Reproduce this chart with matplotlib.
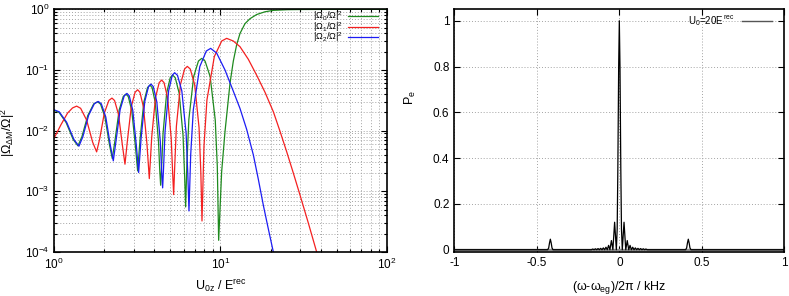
import numpy as np
import matplotlib
matplotlib.use('Agg')
import matplotlib.pyplot as plt
from matplotlib.ticker import LogLocator, NullFormatter

# ---------------- data: left panel (log10 of U0z/Erec, |Omega/Omega|^2) -------------
g_logu = [0.0, 0.0285, 0.0712, 0.1139, 0.1424, 0.1661, 0.2016, 0.2371, 0.2608, 0.2784,
          0.3049, 0.3314, 0.3490, 0.3655, 0.3902, 0.4148, 0.4313, 0.4453, 0.4664, 0.4875,
          0.5015, 0.5163, 0.5386, 0.5609, 0.5757, 0.5886, 0.6079, 0.6271, 0.6349, 0.6400,
          0.6458, 0.6544, 0.6761, 0.6977, 0.7121, 0.7278, 0.7513, 0.7747, 0.7841, 0.7904,
          0.7981, 0.8097, 0.8386, 0.8674, 0.8867, 0.9072, 0.9379, 0.9685, 0.9808, 0.9890,
          1.0070, 1.0271, 1.0572, 1.0772, 1.0973, 1.1174, 1.1474, 1.1775, 1.2176, 1.2677,
          1.3180, 1.4000, 1.5000, 1.7000, 2.0000]
g_val = [0.0215, 0.0200, 0.0136, 0.00714, 0.00562, 0.00794, 0.01776, 0.02758, 0.0299, 0.02738,
         0.01669, 0.00599, 0.00347, 0.00696, 0.02174, 0.03651, 0.0400, 0.03639, 0.02109, 0.00578,
         0.00217, 0.00735, 0.02929, 0.05122, 0.0564, 0.05113, 0.02883, 0.00653, 0.00213, 0.00126,
         0.00253, 0.00901, 0.04183, 0.07465, 0.0824, 0.07458, 0.04148, 0.00837, 0.00184, 0.000553,
         0.00298, 0.0153, 0.0778, 0.1403, 0.155, 0.1402, 0.0776, 0.01495, 0.00259, 0.000156,
         0.0021, 0.0096, 0.06, 0.14, 0.26, 0.40, 0.58, 0.70, 0.82, 0.91,
         0.96, 0.985, 0.993, 0.997, 0.998]

r_logu = [0.0, 0.0400, 0.0800, 0.1100, 0.1344, 0.1585, 0.1946, 0.2307, 0.2548, 0.2732,
          0.3009, 0.3286, 0.3470, 0.3627, 0.3862, 0.4096, 0.4253, 0.4405, 0.4634, 0.4863,
          0.5015, 0.5155, 0.5366, 0.5577, 0.5717, 0.5865, 0.6088, 0.6311, 0.6459, 0.6604,
          0.6821, 0.7037, 0.7124, 0.7182, 0.7248, 0.7346, 0.7593, 0.7840, 0.8004, 0.8181,
          0.8446, 0.8710, 0.8816, 0.8887, 0.9006, 0.9184, 0.9629, 1.0074, 1.0371, 1.0772,
          1.1174, 1.1675, 1.2176, 1.2677, 1.3180, 1.3580, 1.3982, 1.4383, 1.4784, 1.5286,
          1.5787, 1.6000]
r_val = [0.00762, 0.0125, 0.0195, 0.0237, 0.02537, 0.02337, 0.01492, 0.00647, 0.00447, 0.00733,
         0.01944, 0.03154, 0.0344, 0.03138, 0.0186, 0.00582, 0.0028, 0.00704, 0.0250, 0.04296,
         0.0472, 0.04285, 0.02441, 0.00597, 0.00162, 0.00798, 0.03491, 0.06184, 0.0682, 0.06177,
         0.03454, 0.00731, 0.00194, 0.000884, 0.00267, 0.01174, 0.05774, 0.10374, 0.1146, 0.1037,
         0.05747, 0.01124, 0.00212, 0.000325, 0.00554, 0.0320, 0.1662, 0.3003, 0.332, 0.300,
         0.242, 0.150, 0.082, 0.043, 0.0205, 0.0098, 0.0045, 0.0020, 0.00087, 0.00030,
         0.00010, 0.00007]

b_logu = [0.0, 0.0297, 0.0742, 0.1187, 0.1484, 0.1717, 0.2066, 0.2415, 0.2648, 0.2829,
          0.3100, 0.3370, 0.3551, 0.3715, 0.3962, 0.4209, 0.4373, 0.4513, 0.4724, 0.4935,
          0.5075, 0.5223, 0.5446, 0.5669, 0.5817, 0.5958, 0.6169, 0.6379, 0.6464, 0.6520,
          0.6578, 0.6664, 0.6881, 0.7098, 0.7242, 0.7414, 0.7673, 0.7932, 0.8035, 0.8104,
          0.8208, 0.8365, 0.8756, 0.9147, 0.9408, 0.9769, 1.0271, 1.0772, 1.1174, 1.1575,
          1.1976, 1.2277, 1.2578, 1.2879, 1.3180, 1.3380]
b_val = [0.0220, 0.02043, 0.01378, 0.00712, 0.00555, 0.00791, 0.01793, 0.02794, 0.0303, 0.02771,
         0.01674, 0.00577, 0.00318, 0.0068, 0.02214, 0.03748, 0.0411, 0.03737, 0.02157, 0.00577,
         0.00204, 0.00744, 0.03032, 0.0532, 0.0586, 0.05311, 0.02987, 0.00663, 0.00204, 0.00114,
         0.00254, 0.00964, 0.04562, 0.0816, 0.0901, 0.08155, 0.04529, 0.00904, 0.00188, 0.000475,
         0.00403, 0.0221, 0.1137, 0.2054, 0.227, 0.19, 0.10, 0.0447, 0.0232, 0.0105,
         0.0040, 0.00158, 0.00059, 0.00024, 0.00010, 0.00006]

left_labels = [r'$|\Omega_0/\Omega|^2$', r'$|\Omega_1/\Omega|^2$', r'$|\Omega_2/\Omega|^2$']

# ---------------- data: right panel (detuning / kHz, P_e) ----------------
det = [-1.0, -0.434, -0.428, -0.423, -0.418, -0.413, -0.408, -0.402,
       -0.169, -0.161, -0.153, -0.145, -0.137, -0.129, -0.121, -0.113, -0.105, -0.097,
       -0.089, -0.081, -0.073, -0.065, -0.057, -0.048, -0.039, -0.0285, -0.018, -0.013,
       -0.009, -0.004, 0.0, 0.004, 0.009, 0.013, 0.018, 0.0285, 0.039, 0.048, 0.057,
       0.065, 0.073, 0.081, 0.089, 0.097, 0.105, 0.113, 0.121, 0.129, 0.137, 0.145,
       0.153, 0.161, 0.169,
       0.402, 0.408, 0.413, 0.418, 0.423, 0.428, 0.434, 1.0]
pe = [0.0, 0.0, 0.008, 0.030, 0.046, 0.030, 0.008, 0.0,
      0.0, 0.003, 0.0, 0.004, 0.0, 0.005, 0.0, 0.006, 0.0, 0.008,
      0.0, 0.011, 0.0, 0.019, 0.0, 0.040, 0.0, 0.120, 0.0, 0.09,
      0.35, 0.80, 1.0, 0.80, 0.35, 0.09, 0.0, 0.120, 0.0, 0.040, 0.0,
      0.019, 0.0, 0.011, 0.0, 0.008, 0.0, 0.006, 0.0, 0.005, 0.0, 0.004,
      0.0, 0.003, 0.0,
      0.0, 0.008, 0.030, 0.046, 0.030, 0.008, 0.0, 0.0]
# unresolved fast oscillation band near zero
band_det = [-1.0, 1.0]
band_hi = [0.005, 0.005]
right_label = r'U$_0$=20E$^{\,rec}$'

# ---------------- style ----------------
plt.rcParams['font.family'] = ['Liberation Sans', 'DejaVu Sans']
plt.rcParams['mathtext.fontset'] = 'custom'
plt.rcParams['mathtext.rm'] = 'Liberation Sans'
plt.rcParams['mathtext.it'] = 'Liberation Sans:italic'
plt.rcParams['mathtext.bf'] = 'Liberation Sans:bold'
plt.rcParams['mathtext.default'] = 'regular'

fs = 8.5
fig = plt.figure(figsize=(7.89, 2.96), dpi=100)
ax1 = fig.add_axes([0.0688, 0.1486, 0.4213, 0.820])
ax2 = fig.add_axes([0.5758, 0.1486, 0.4183, 0.820])

gridkw = dict(ls=(0, (1, 2)), color='#a4a4a4', lw=0.7)

# left panel
ax1.plot(10 ** np.array(g_logu), g_val, color='#1e8a1e', lw=0.9, label=left_labels[0])
ax1.plot(10 ** np.array(r_logu), r_val, color='#f42020', lw=0.9, label=left_labels[1])
ax1.plot(10 ** np.array(b_logu), b_val, color='#1c1cf4', lw=0.9, label=left_labels[2])
ax1.set_xscale('log')
ax1.set_yscale('log')
ax1.set_xlim(1, 100)
ax1.set_ylim(1e-4, 1)
ax1.xaxis.set_major_locator(LogLocator(base=10, numticks=10))
ax1.yaxis.set_major_locator(LogLocator(base=10, numticks=10))
ax1.xaxis.set_minor_locator(LogLocator(base=10, subs=np.arange(2, 10), numticks=20))
ax1.yaxis.set_minor_locator(LogLocator(base=10, subs=np.arange(2, 10), numticks=20))
ax1.xaxis.set_minor_formatter(NullFormatter())
ax1.yaxis.set_minor_formatter(NullFormatter())
ax1.grid(which='both', **gridkw)
ax1.set_axisbelow(True)
ax1.set_xlabel(r'U$_{0z}$ / E$^{rec}$', fontsize=9)
ax1.set_ylabel(r'$|\Omega_{\Delta M}/\Omega|^2$', fontsize=9)
ax1.xaxis.set_label_coords(0.5, -0.105)
ax1.yaxis.set_label_coords(-0.112, 0.49)
leg1 = ax1.legend(loc='upper right', bbox_to_anchor=(0.974, 0.998), markerfirst=False,
                  frameon=False, fontsize=6.6, handlelength=3.3, handletextpad=0.5,
                  labelspacing=-0.35, borderpad=0, borderaxespad=0)

# right panel
ax2.fill_between(band_det, 0, band_hi, color='#8a8a8a', lw=1.0, edgecolor='#8a8a8a')
ax2.plot(det, pe, color='black', lw=0.9)
ax2.plot([], [], color='#555555', lw=1.0, label=right_label)
ax2.set_xlim(-1, 1)
ax2.set_ylim(-0.01, 1.05)
ax2.set_xticks([-1, -0.5, 0, 0.5, 1])
ax2.set_xticklabels(['-1', '-0.5', '0', '0.5', '1'])
ax2.set_yticks([0, 0.2, 0.4, 0.6, 0.8, 1.0])
ax2.set_yticklabels(['0', '0.2', '0.4', '0.6', '0.8', '1'])
ax2.grid(which='major', **gridkw)
ax2.set_axisbelow(True)
ax2.set_xlabel(r'($\omega$-$\omega_{eg}$)/2$\pi$ / kHz', fontsize=9)
ax2.set_ylabel(r'P$_e$', fontsize=9)
ax2.xaxis.set_label_coords(0.5, -0.112)
ax2.yaxis.set_label_coords(-0.11, 0.635)
ax2.legend(loc='upper right', bbox_to_anchor=(0.963, 0.985), markerfirst=False,
           frameon=False, fontsize=7, handlelength=3.1, handletextpad=0.8,
           borderpad=0, borderaxespad=0)

for ax in (ax1, ax2):
    for s in ax.spines.values():
        s.set_linewidth(1.2)
        s.set_color('black')
    ax.tick_params(which='both', direction='in', top=True, right=True, labelsize=fs,
                   width=0.8, colors='black')
    ax.tick_params(which='major', length=4)
    ax.tick_params(which='minor', length=2)

fig.savefig('out.png', dpi=100)
